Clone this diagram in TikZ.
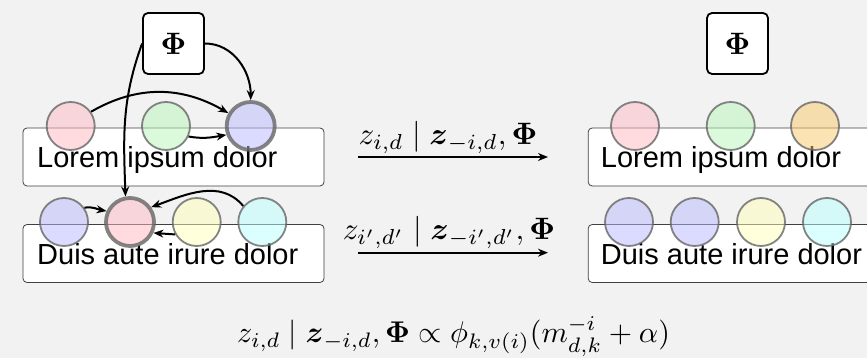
\documentclass[tikz,border=0pt]{standalone}
\usepackage{amsmath,amssymb}
\usepackage{graphicx}
\usepackage{fontspec}
\newfontfamily\helv{Liberation Sans}
\usetikzlibrary{arrows.meta}

\definecolor{bg}{HTML}{F2F2F2}
\definecolor{wpink}{RGB}{255,185,195}
\definecolor{wgreen}{RGB}{185,245,185}
\definecolor{wblue}{RGB}{185,185,255}
\definecolor{wyellow}{RGB}{255,255,185}
\definecolor{wcyan}{RGB}{185,255,255}
\definecolor{worange}{RGB}{251,201,105}

% math is set at 10pt and blown up
\newcommand{\bigmath}[2][3.1]{\scalebox{#1}{$#2$}}

\begin{document}
\begin{tikzpicture}[x=1pt, y=1pt, >={Stealth[length=10pt, width=8pt]},
  word/.style={circle, draw=black!60, draw opacity=0.8, line width=1.8pt,
    fill opacity=0.5, text opacity=1, minimum size=48pt, inner sep=0pt},
  picked/.style={word, draw=black!60, line width=3.8pt},
  doc/.style={draw=black!75, fill=white, rounded corners=4pt, line width=0.8pt,
    minimum width=301pt, minimum height=58pt, inner sep=0pt},
  topic/.style={draw, fill=white, rounded corners=5pt, line width=1.8pt,
    minimum size=61pt, inner sep=0pt},
  words/.style={anchor=base west, inner sep=0pt, font=\helv\fontsize{29}{35}\selectfont},
  eq/.style={anchor=base, inner sep=0pt},
  link/.style={->, line width=2pt}]
  \fill[bg] (0,0) rectangle (867,358);
  \useasboundingbox (0,0) rectangle (867,358);
  \clip (0,0) rectangle (867,358);

  % before the step
  \node[topic] (phiL) at (173.5,314.5) {\bigmath{\boldsymbol{\Phi}}};
  \node[doc] (d1) at (173.5,201) {};
  \node[doc] (d2) at (173.5,104.5) {};
  \node[words] (s1) at (37,190) {Lorem ipsum dolor};
  \node[words] (s2) at (37,93) {Duis aute irure dolor};
  \node[word, fill=wpink]   (t1) at (70.7,232) {};
  \node[word, fill=wgreen]  (t2) at (166,232) {};
  \node[picked, fill=wblue] (t3) at (250.7,232) {};
  \node[word, fill=wblue]    (b1) at (64,136) {};
  \node[picked, fill=wpink]  (b2) at (130,136) {};
  \node[word, fill=wyellow]  (b3) at (196.7,136) {};
  \node[word, fill=wcyan]    (b4) at (262.3,136) {};

  % dependencies of the sampled words
  \draw[link] (phiL.west) to[out=250, in=92] (b2.100);
  \draw[link] (phiL.east) to[out=0, in=90] (t3.north);
  \draw[link] (t1.35) to[out=30, in=150] (t3.150);
  \draw[link] (t2.-25) to[out=-10, in=190] (t3.200);
  \draw[link] (b1.35) to[out=10, in=170] (b2.155);
  \draw[link] (b4.140) to[out=130, in=20] (b2.35);
  \draw[link] (b3.210) -- (b2.-25);

  % sampling steps
  \coordinate (a1s) at (358,201);
  \coordinate (a1e) at (548,201);
  \coordinate (a2s) at (358,105.3);
  \coordinate (a2e) at (548,105.3);
  \draw[link] (a1s) -- (a1e);
  \draw[link] (a2s) -- (a2e);
  \node[eq] (l1) at (448,213)
    {\bigmath{z_{i,d} \mid \boldsymbol{z}_{-i,d}, \boldsymbol{\Phi}}};
  \node[eq] (l2) at (449,118)
    {\bigmath{z_{i',d'} \mid \boldsymbol{z}_{-i',d'}, \boldsymbol{\Phi}}};

  % after the step
  \node[topic] (phiR) at (737.5,314.5) {\bigmath{\boldsymbol{\Phi}}};
  \node[doc] (d3) at (738.7,201) {};
  \node[doc] (d4) at (738.7,104.5) {};
  \node[words] (s3) at (600.7,190) {Lorem ipsum dolor};
  \node[words] (s4) at (600.7,93) {Duis aute irure dolor};
  \node[word, fill=wpink]   (r1) at (635,232) {};
  \node[word, fill=wgreen]  (r2) at (730.7,232) {};
  \node[word, fill=worange] (r3) at (815,232) {};
  \node[word, fill=wblue]   (q1) at (629,136) {};
  \node[word, fill=wblue]   (q2) at (694.7,136) {};
  \node[word, fill=wyellow] (q3) at (761,136) {};
  \node[word, fill=wcyan]   (q4) at (827,136) {};

  % full conditional
  \node[eq] (cond) at (453.5,15)
    {\bigmath[3.0]{z_{i,d} \mid \boldsymbol{z}_{-i,d}, \boldsymbol{\Phi} \propto
      \phi_{k,v(i)}(m_{d,k}^{-i} + \alpha)}};
\end{tikzpicture}
\end{document}
